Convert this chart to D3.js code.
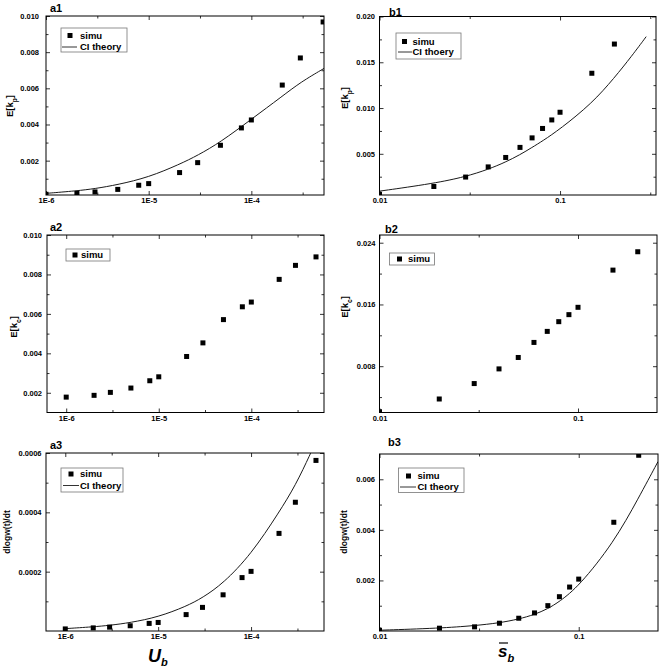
<!DOCTYPE html>
<html><head><meta charset="utf-8">
<script src="https://cdn.jsdelivr.net/npm/d3@7"></script>
<style>body{margin:0;background:#fff}svg{display:block}</style>
</head><body>
<svg id="c" width="661" height="668"></svg>
<script>
// ---------- data ----------
const aX = [1e-6,2e-6,3e-6,5e-6,8e-6,1e-5,2e-5,3e-5,5e-5,8e-5,1e-4,2e-4,3e-4,5e-4];
const bX = [0.01,0.02,0.03,0.04,0.05,0.06,0.07,0.08,0.09,0.1,0.15,0.2];

const a1Simu = [0.00014,0.00019,0.00027,0.00041,0.00064,0.00073,0.00134,0.00189,0.00285,0.00381,0.00425,0.00618,0.00768,0.00967];
const a1TheoryX = [1e-6,2e-6,3e-6,5e-6,1e-5,2e-5,3e-5,5e-5,1e-4,2e-4,3e-4,5.1e-4];
const a1Theory  = [0.00019,0.00033,0.00045,0.00067,0.00108,0.00180,0.00229,0.00302,0.00429,0.00556,0.00633,0.00710];

const b1Simu = [0.00058,0.00143,0.00246,0.00357,0.0046,0.0057,0.00674,0.00777,0.0087,0.00954,0.0138,0.01699];
const b1TheoryX = [0.01,0.02,0.03,0.04,0.05,0.06,0.07,0.08,0.1,0.15,0.2,0.25,0.3];
const b1Theory  = [0.00092,0.00176,0.0025,0.0033,0.0041,0.0049,0.0057,0.0064,0.0077,0.0105,0.0133,0.0157,0.0178];

const a2Simu = [0.00178,0.00187,0.00202,0.00224,0.00261,0.00281,0.00384,0.00453,0.00571,0.00636,0.00660,0.00775,0.00846,0.00889];
const b2Simu = [0.0021,0.00375,0.00575,0.00765,0.00913,0.01108,0.01251,0.01377,0.01468,0.01563,0.02045,0.02283];

const a3Simu = [0.000007,0.0000105,0.000013,0.0000177,0.0000256,0.0000288,0.0000553,0.0000796,0.000122,0.00018,0.000201,0.000329,0.000434,0.000575];
const a3TheoryX = [1e-6,2e-6,3e-6,5e-6,1e-5,2e-5,3e-5,5e-5,1e-4,2e-4,3e-4,4.4e-4,5e-4];
const a3Theory  = [0.000008,0.000014,0.000019,0.000028,0.000047,0.000083,0.000112,0.000160,0.000258,0.000400,0.000490,0.0006,0.00064];

const b3Simu = [0.00003,0.000111,0.000164,0.000308,0.000505,0.000715,0.001003,0.001357,0.001738,0.002052,0.0043,0.00695];
const b3TheoryX = [0.01,0.02,0.03,0.04,0.05,0.06,0.07,0.08,0.1,0.15,0.2,0.25];
const b3Theory  = [0.00003,0.00011,0.00021,0.00032,0.00047,0.00065,0.00088,0.00116,0.00176,0.0035,0.00527,0.0067];

const aTickLabels = ["1E-6","1E-5","1E-4"];
const aTicks = [1e-6,1e-5,1e-4];
const aMinor = [3.16e-6,3.16e-5,3.16e-4];
const bTickLabels = ["0.01","0.1"];
const bTicks = [0.01,0.1];
const bMinor = [0.0316,0.316];

// ---------- drawing ----------
const svg = d3.select("#c");
const FONT = "'Liberation Sans', Arial, sans-serif";

function panel(cfg){
  const g = svg.append("g");
  const x = d3.scaleLog().domain(cfg.xd).range([cfg.l, cfg.r]);
  const y = d3.scaleLinear().domain(cfg.yd).range([cfg.b, cfg.t]);
  const id = "clip_" + cfg.name;
  svg.append("clipPath").attr("id", id).append("rect")
    .attr("x", cfg.l).attr("y", cfg.t).attr("width", cfg.r-cfg.l).attr("height", cfg.b-cfg.t);

  function style(sel){
    sel.select(".domain").remove();
    sel.selectAll("line").attr("stroke","#000").attr("stroke-width",0.8);
    sel.selectAll("text").attr("font-size",7.5).attr("font-weight","bold").attr("font-family",FONT).attr("fill","#000");
    sel.attr("font-family",null).attr("font-size",null);
  }
  const xl = cfg.xt.map((v,i)=>[v,cfg.xlab[i]]);
  const xfmt = v => { const f = xl.find(p=>Math.abs(p[0]-v)/v<1e-6); return f?f[1]:""; };
  const xm = cfg.xm.filter(v=>v>cfg.xd[0]&&v<cfg.xd[1]);
  // bottom
  g.append("g").attr("transform",`translate(0,${cfg.b})`)
    .call(d3.axisBottom(x).tickValues(cfg.xt).tickFormat(xfmt).tickSizeInner(-4).tickSizeOuter(0).tickPadding(3)).call(style);
  g.append("g").attr("transform",`translate(0,${cfg.b})`)
    .call(d3.axisBottom(x).tickValues(xm).tickFormat("").tickSizeInner(-2.5).tickSizeOuter(0)).call(style);
  // top
  g.append("g").attr("transform",`translate(0,${cfg.t})`)
    .call(d3.axisTop(x).tickValues(cfg.xt).tickFormat("").tickSizeInner(-4).tickSizeOuter(0)).call(style);
  g.append("g").attr("transform",`translate(0,${cfg.t})`)
    .call(d3.axisTop(x).tickValues(xm).tickFormat("").tickSizeInner(-2.5).tickSizeOuter(0)).call(style);
  // left
  g.append("g").attr("transform",`translate(${cfg.l},0)`)
    .call(d3.axisLeft(y).tickValues(cfg.yt).tickFormat(d3.format(cfg.yf)).tickSizeInner(-4).tickSizeOuter(0).tickPadding(cfg.ypad)).call(style);
  g.append("g").attr("transform",`translate(${cfg.l},0)`)
    .call(d3.axisLeft(y).tickValues(cfg.ym).tickFormat("").tickSizeInner(-2.5).tickSizeOuter(0)).call(style);
  // right
  g.append("g").attr("transform",`translate(${cfg.r},0)`)
    .call(d3.axisRight(y).tickValues(cfg.yt).tickFormat("").tickSizeInner(-4).tickSizeOuter(0)).call(style);
  g.append("g").attr("transform",`translate(${cfg.r},0)`)
    .call(d3.axisRight(y).tickValues(cfg.ym).tickFormat("").tickSizeInner(-2.5).tickSizeOuter(0)).call(style);

  // theory line
  const cg = g.append("g").attr("clip-path",`url(#${id})`);
  if (cfg.tx){
    const pts = cfg.tx.map((v,i)=>[v,cfg.ty[i]]);
    cg.append("path").datum(pts)
      .attr("d", d3.line().x(d=>x(d[0])).y(d=>y(d[1])).curve(d3.curveBasis))
      .attr("fill","none").attr("stroke","#1a1a1a").attr("stroke-width",1);
  }
  // simu points
  cg.selectAll("rect.pt").data(cfg.sx.map((v,i)=>[v,cfg.sy[i]])).join("rect")
    .attr("x",d=>x(d[0])-2.5).attr("y",d=>y(d[1])-2.5).attr("width",5).attr("height",5).attr("fill","#000");

  // frame
  g.append("rect").attr("x",cfg.l).attr("y",cfg.t).attr("width",cfg.r-cfg.l).attr("height",cfg.b-cfg.t)
    .attr("fill","none").attr("stroke","#000").attr("stroke-width",1);

  // title
  g.append("text").attr("x",cfg.titleX).attr("y",cfg.titleY).text(cfg.name)
    .attr("font-family",FONT).attr("font-weight","bold").attr("font-size",11);

  // y label
  const yl = g.append("text").attr("transform",`translate(${cfg.ylx},${cfg.yly}) rotate(-90)`)
    .attr("text-anchor","middle").attr("font-family",FONT).attr("font-weight","bold").attr("font-size",cfg.ylfs);
  cfg.ylabel.forEach(p=>{
    const t = yl.append("tspan").text(p.t);
    if (p.sub) t.attr("font-size",cfg.ylfs*0.7).attr("baseline-shift","sub");
  });

  // legend
  const L = cfg.leg;
  g.append("rect").attr("x",L.x).attr("y",L.y).attr("width",L.w).attr("height",L.h)
    .attr("fill","#fff").attr("stroke","#777").attr("stroke-width",0.8);
  g.append("rect").attr("x",L.sx-2.5).attr("y",L.sy-2.5).attr("width",5).attr("height",5).attr("fill","#000");
  g.append("text").attr("x",L.tx).attr("y",L.sy+3.3).text("simu")
    .attr("font-family",FONT).attr("font-weight","bold").attr("font-size",9.5);
  if (L.line){
    g.append("line").attr("x1",L.lx1).attr("x2",L.lx2).attr("y1",L.ly).attr("y2",L.ly)
      .attr("stroke","#333").attr("stroke-width",1);
    g.append("text").attr("x",L.tx).attr("y",L.ly+3.3).text(L.line)
      .attr("font-family",FONT).attr("font-weight","bold").attr("font-size",9.5);
  }
}

const Ek = (s)=>[{t:"E[k"},{t:s,sub:true},{t:"]"}];

panel({name:"a1", l:46, t:16, r:324, b:195, xd:[1e-6,5.1e-4], yd:[0.0001,0.010],
  xt:aTicks, xlab:aTickLabels, xm:aMinor, yt:[0.002,0.004,0.006,0.008,0.010], ym:[0.001,0.003,0.005,0.007,0.009], yf:".3f", ypad:7,
  sx:aX, sy:a1Simu, tx:a1TheoryX, ty:a1Theory, titleX:50, titleY:12, ylx:13, yly:106, ylfs:9.5, ylabel:Ek("p"),
  leg:{x:61,y:28,w:66,h:24, sx:70,sy:35.5, tx:80, line:"CI theory", lx1:62, lx2:77, ly:47}});

panel({name:"b1", l:379.5, t:16.5, r:656, b:195, xd:[0.01,0.34], yd:[0.0005,0.020],
  xt:bTicks, xlab:bTickLabels, xm:bMinor, yt:[0.005,0.010,0.015,0.020], ym:[0.0025,0.0075,0.0125,0.0175], yf:".3f", ypad:4.5,
  sx:bX, sy:b1Simu, tx:b1TheoryX, ty:b1Theory, titleX:389, titleY:16, ylx:348, yly:98, ylfs:9.5, ylabel:Ek("p"),
  leg:{x:396,y:33,w:65,h:26, sx:404.5,sy:41.5, tx:412.5, line:"CI thoery", lx1:398, lx2:412, ly:52}});

panel({name:"a2", l:47, t:235, r:324, b:412.5, xd:[6.2e-7,6.1e-4], yd:[0.001,0.010],
  xt:aTicks, xlab:aTickLabels, xm:aMinor, yt:[0.002,0.004,0.006,0.008,0.010], ym:[0.003,0.005,0.007,0.009], yf:".3f", ypad:5,
  sx:aX, sy:a2Simu, titleX:50, titleY:231, ylx:17, yly:327, ylfs:9.5, ylabel:Ek("c"),
  leg:{x:66,y:249,w:44,h:12, sx:75,sy:255, tx:81}});

panel({name:"b2", l:379.5, t:235, r:657, b:412.5, xd:[0.01,0.25], yd:[0.002,0.025],
  xt:bTicks, xlab:bTickLabels, xm:bMinor, yt:[0.008,0.016,0.024], ym:[0.004,0.012,0.020], yf:".3f", ypad:4,
  sx:bX, sy:b2Simu, titleX:385, titleY:233, ylx:348, yly:307, ylfs:9.5, ylabel:Ek("c"),
  leg:{x:389.5,y:253,w:45,h:12, sx:399.5,sy:259, tx:408}});

panel({name:"a3", l:46, t:453, r:324, b:631, xd:[6.2e-7,6.1e-4], yd:[0,0.0006],
  xt:aTicks, xlab:aTickLabels, xm:aMinor, yt:[0.0002,0.0004,0.0006], ym:[0.0001,0.0003,0.0005], yf:".4f", ypad:4.5,
  sx:aX, sy:a3Simu, tx:a3TheoryX, ty:a3Theory, titleX:50, titleY:449, ylx:10, yly:532, ylfs:8.5, ylabel:[{t:"dlogw(t)/dt"}],
  leg:{x:61,y:468,w:62,h:24, sx:71,sy:474, tx:80, line:"CI theory", lx1:63, lx2:79, ly:485.5}});

panel({name:"b3", l:379.5, t:454, r:658, b:631, xd:[0.01,0.25], yd:[0,0.007],
  xt:bTicks, xlab:bTickLabels, xm:bMinor, yt:[0.002,0.004,0.006], ym:[0.001,0.003,0.005], yf:".3f", ypad:4.5,
  sx:bX, sy:b3Simu, tx:b3TheoryX, ty:b3Theory, titleX:388, titleY:446, ylx:347, yly:532, ylfs:8.5, ylabel:[{t:"dlogw(t)/dt"}],
  leg:{x:398.5,y:468,w:65.5,h:24.5, sx:408.5,sy:476, tx:417.5, line:"CI theory", lx1:400, lx2:416, ly:487}});

// x-axis titles
const u = svg.append("text").attr("x",148).attr("y",662).attr("font-family",FONT)
  .attr("font-weight","bold").attr("font-style","italic").attr("font-size",18);
u.append("tspan").text("U");
u.append("tspan").text("b").attr("font-size",11).attr("dy",4);

const s = svg.append("text").attr("x",498).attr("y",657).attr("font-family",FONT)
  .attr("font-weight","bold").attr("font-style","italic").attr("font-size",17);
s.append("tspan").text("s");
s.append("tspan").text("b").attr("font-size",11).attr("dy",5);
svg.append("line").attr("x1",499).attr("x2",508).attr("y1",643).attr("y2",643).attr("stroke","#000").attr("stroke-width",1.2);
</script>
</body></html>
